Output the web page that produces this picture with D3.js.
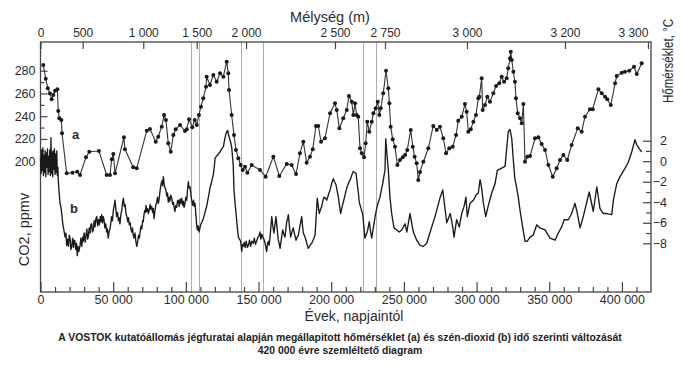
<!DOCTYPE html>
<html><head><meta charset="utf-8">
<script src="https://cdn.jsdelivr.net/npm/d3@7"></script>
<style>
html,body{margin:0;padding:0;background:#fff;}
svg{display:block;font-family:"Liberation Sans",Arial,sans-serif;}
</style></head><body>
<svg id="chart" width="682" height="365"></svg>
<script>
// Ice-core age axis ticks (thousand years before present)
const ageTicks = [0, 50, 100, 150, 200, 250, 300, 350, 400];
// Depth axis ticks (m) and the core age found at each depth (kyr)
const depthTicks = [0, 500, 1000, 1500, 2000, 2500, 2750, 3000, 3200, 3300];
const depthTickAges = [0, 29.0, 70.7, 107.5, 141.4, 202.6, 237.0, 293.4, 360.8, 417.9];
// Reference depth markers drawn as thin vertical lines (kyr)
const markerAges = [103.2, 108.7, 137.9, 153.1, 222.2, 230.8];
const co2Ticks = [200, 220, 240, 260, 280];
const co2MinorTicks = [210, 230, 250, 270];
const tempTicks = [2, 0, -2, -4, -6, -8];
const tempMinorTicks = [1, -1, -3, -5, -7];

// Series a: CO2 (ppmv) vs age (kyr)
const co2 = [
[1.9,285],[3.6,273],[5.0,264.5],[6.5,260],[7.7,255],[8.8,258.6],[10.0,262.4],[11.6,263.6],
[12.2,244.6],[12.9,238.2],[14.3,236.7],[14.8,225],[18.0,189.8],[22.0,190.3],[25.3,191.2],[27.2,188.3],
[31.3,203.9],[33.6,208.8],[40.2,209.4],[45.5,188.3],[47.8,188.3],[49.0,202.1],[50.1,206.8],[51.3,189.8],
[57.4,221.5],[58.1,210.9],[63.8,195.1],[66.2,194.2],[73.1,227.3],[75.3,228.7],[79.3,217.6],[81.0,222],
[83.4,230.8],[85.0,241.1],[86.3,236.7],[87.9,216.2],[89.6,208.8],[91.4,223.5],[93.0,228.5],[96.0,232.3],
[99.4,227],[100.6,228.5],[102.2,237.3],[104.4,230.2],[106.1,236.7],[107.5,232.3],[109.0,241.1],[110.4,248.4],
[112.0,255.7],[113.9,265.9],[114.3,274.7],[116.6,267.4],[118.9,276.2],[121.2,270.3],[123.5,277.7],[125.8,274.7],
[128.1,287.9],[129.2,277.7],[129.7,263],[131.5,241.1],[133.1,223.5],[134.5,210.3],[136.1,203],[137.7,197.1],
[139.1,192.7],[140.7,195.6],[142.3,190.3],[145.3,197.1],[151.0,192.7],[154.9,186.8],[160.2,204.4],[164.3,187.4],
[169.4,198],[172.8,197.1],[175.8,189.2],[178.5,207.4],[180.8,217.6],[183.1,199.1],[185.4,204.4],[187.3,210.9],
[189.5,231.4],[191.1,231.4],[193.0,217.6],[195.7,220.6],[199.2,242.6],[202.6,251.3],[203.8,245.5],[205.6,229.4],
[208.3,238.2],[210.7,245.5],[212.2,257.8],[214.1,252.7],[215.2,241.1],[216.4,251.3],[217.5,241.1],[218.6,239.6],
[219.8,211.8],[221.0,207.4],[222.6,203.9],[223.7,216.2],[224.8,235.2],[226.2,226.4],[227.9,235.2],[229.0,242.6],
[230.6,246.9],[232.0,252.7],[233.1,241.1],[234.1,246.9],[235.8,260.1],[237.7,280],[239.3,264.5],[240.0,251.3],
[240.9,230.8],[242.3,219.7],[243.9,213.2],[245.5,197.1],[247.3,201.5],[249.2,203.9],[250.8,205.9],[252.3,210.3],
[254.7,227.9],[256.1,213.2],[257.4,204.4],[258.8,198.6],[259.9,183.9],[261.1,191],[263.4,200],[266.8,211.8],
[270.2,231.4],[272.6,227.9],[274.8,230.8],[277.1,220.6],[279.0,207.4],[281.2,211.8],[283.6,213.2],[285.9,223.5],
[287.4,236],[289.8,239.6],[292.0,250.7],[293.2,243.9],[294.3,226.4],[296.0,228.5],[297.8,235.2],[299.6,241.1],
[301.2,255.7],[301.9,257.1],[303.5,273.3],[304.2,245.5],[305.8,249.8],[307.4,257.1],[309.2,252.7],[311.5,260.1],
[313.4,266.5],[315.6,268.9],[317.3,274.7],[318.9,270.3],[320.7,273.3],[321.8,282.1],[323.0,290.9],[323.5,296.7],
[324.2,289.4],[325.3,279.1],[326.4,270.3],[327.1,255.7],[328.3,242.6],[329.9,238.2],[331.1,233.8],[332.2,250.7],
[333.3,200],[334.9,204.4],[336.8,205],[340.2,220.6],[342.5,221.5],[344.8,215.6],[347.1,210.3],[349.4,197.1],
[352.4,186.8],[355.1,194.2],[357.4,201.5],[359.7,205.9],[362.4,201.5],[365.4,214.7],[369.6,229.4],[372.3,226.4],
[374.6,239.6],[378.0,246.1],[379.9,246.1],[383.8,263.6],[386.1,260.1],[388.4,257.1],[389.9,254.9],[392.3,249.8],
[395.3,268.9],[396.4,275.3],[399.9,278.2],[402.1,279.1],[405.1,280],[408.3,283.5],[410.2,277.1],[413.6,286.5]
];

// Series b: temperature anomaly (°C) vs age (kyr)
const temperature = [
[0,0.3],[0.4,-1.2],[0.8,1.1],[1.2,-0.9],[1.6,1.3],[2.0,-1.4],[2.4,0.6],[2.8,-1.1],[3.2,1.0],[3.6,-1.5],
[4.0,0.8],[4.4,-0.6],[4.8,1.2],[5.2,-1.3],[5.6,0.5],[6.0,-1.0],[6.4,1.1],[6.8,-1.4],[7.2,2.3],[7.6,-1.2],
[8.0,0.9],[8.4,-1.5],[8.8,1.0],[9.2,-0.8],[9.6,1.2],[10.0,-1.3],[10.4,0.7],[10.8,-1.1],[11.2,1.0],[11.6,-1.4],
[12.0,-0.6],[12.2,-1.8],[12.8,-3.0],[13.4,-4.1],[14.0,-4.4],[14.6,-5.1],[15.4,-6.2],[16.2,-6.8],[16.9,-7.4],[17.5,-7.0],
[18.0,-8.2],[18.6,-7.6],[19.2,-8.3],[19.8,-7.2],[20.3,-7.5],[20.9,-8.6],[21.5,-8.3],[22.1,-7.5],[22.7,-8.4],[23.2,-7.7],
[23.7,-7.8],[24.3,-8.6],[24.8,-8.0],[25.3,-9.2],[25.8,-8.3],[26.4,-8.8],[27.2,-8.2],[27.8,-7.5],[28.4,-8.3],[29.0,-7.4],
[29.4,-7.8],[30.0,-7.0],[30.7,-7.9],[31.3,-7.2],[31.9,-6.6],[32.4,-7.6],[32.9,-7.4],[33.5,-6.5],[34.1,-7.0],[34.6,-6.2],
[35.2,-6.1],[35.7,-6.9],[36.3,-6.7],[36.9,-5.8],[37.5,-6.4],[38.1,-5.6],[38.7,-5.4],[39.3,-6.3],[39.9,-5.7],[40.5,-6.2],
[41.1,-5.4],[41.6,-5.9],[42.1,-5.2],[42.7,-6.0],[43.2,-5.4],[43.7,-5.7],[44.3,-6.5],[44.9,-6.1],[45.5,-6.9],[46.0,-6.6],
[46.6,-7.5],[47.2,-6.8],[47.8,-6.6],[48.3,-6.1],[48.9,-5.4],[49.5,-5.8],[50.1,-4.8],[50.7,-4.3],[51.3,-3.8],[51.8,-4.6],
[52.4,-5.4],[53.0,-5.0],[53.6,-5.8],[54.1,-5.5],[54.7,-6.1],[55.3,-5.2],[55.9,-4.8],[56.4,-4.1],[57.0,-3.6],[57.6,-4.4],
[58.2,-4.2],[58.8,-5.1],[59.4,-5.4],[60.0,-5.9],[60.5,-5.5],[61.1,-6.2],[61.7,-6.0],[62.2,-6.6],[62.7,-6.9],[63.3,-6.5],
[63.8,-7.2],[64.4,-7.5],[65.0,-7.0],[65.6,-7.8],[66.2,-8.3],[66.8,-7.9],[67.4,-7.2],[68.0,-7.5],[68.6,-6.8],[69.2,-6.3],
[69.7,-6.6],[70.3,-5.8],[70.7,-5.9],[71.2,-5.2],[71.7,-4.8],[72.2,-5.0],[72.6,-4.3],[73.1,-4.9],[73.7,-4.6],[74.2,-5.1],
[74.8,-4.8],[75.4,-4.2],[76.0,-4.7],[76.5,-4.4],[77.1,-5.0],[77.6,-4.6],[78.1,-5.6],[78.7,-4.9],[79.3,-4.3],[79.9,-4.0],
[80.5,-3.5],[81.1,-4.1],[81.7,-3.6],[82.3,-2.8],[83.0,-2.2],[83.6,-1.9],[84.0,-2.4],[84.5,-1.5],[85.0,-2.1],[85.4,-2.5],
[86.3,-2.8],[86.8,-3.4],[87.4,-3.1],[87.9,-4.0],[88.4,-3.5],[89.0,-3.9],[89.6,-3.3],[90.3,-3.6],[90.9,-4.2],[91.5,-4.0],
[92.0,-4.6],[92.5,-4.9],[93.1,-4.3],[93.7,-4.5],[94.2,-3.9],[94.8,-3.8],[95.4,-4.4],[96.0,-3.7],[96.5,-4.1],[97.1,-3.6],
[97.7,-4.3],[98.3,-3.9],[98.8,-4.5],[99.4,-4.1],[100.0,-3.5],[100.6,-3.8],[101.1,-2.9],[101.7,-2.0],[102.3,-2.6],[102.9,-2.5],
[103.5,-3.3],[104.1,-3.9],[104.7,-4.3],[105.3,-3.8],[105.8,-4.4],[106.3,-4.1],[106.9,-5.2],[107.4,-6.1],[107.9,-6.7],[108.5,-6.3],
[109.1,-6.9],[109.7,-6.5],[110.4,-6.1],[111.2,-5.9],[112.0,-5.6],[112.8,-5.2],[113.5,-4.8],[114.3,-4.4],[115.1,-3.8],[115.9,-3.2],
[116.6,-2.6],[117.4,-2.2],[118.1,-1.8],[118.9,-1.3],[119.5,-0.6],[120.1,0.3],[121.2,0.5],[122.3,0.7],[123.5,0.9],[124.6,1.2],
[125.8,1.4],[126.7,2.1],[127.6,2.7],[128.2,2.9],[128.8,3.0],[129.3,2.6],[129.9,2.3],[130.7,1.9],[131.5,1.4],[132.0,0.6],
[132.6,-0.4],[133.1,-2.8],[133.8,-4.0],[134.5,-5.1],[135.3,-6.3],[136.1,-7.4],[136.9,-7.6],[137.7,-7.8],[138.4,-8.8],[139.0,-8.1],
[139.5,-8.3],[140.2,-7.9],[140.8,-8.4],[141.5,-7.8],[142.3,-8.4],[143.0,-8.2],[143.8,-7.7],[144.6,-8.3],[145.4,-7.8],[146.4,-8.0],
[147.1,-7.5],[147.9,-8.1],[148.7,-7.8],[149.5,-7.4],[150.3,-7.3],[151.0,-6.9],[151.6,-7.6],[152.3,-7.1],[152.9,-7.4],[153.7,-7.6],
[154.5,-8.0],[155.0,-8.4],[155.6,-8.8],[156.2,-8.0],[156.8,-7.8],[157.3,-8.2],[157.9,-7.4],[158.5,-6.4],[159.1,-5.4],[159.8,-6.3],
[160.6,-7.0],[161.3,-6.2],[162.0,-5.4],[162.8,-6.6],[163.6,-7.7],[164.2,-8.0],[164.8,-8.5],[165.7,-7.6],[166.6,-6.7],[167.4,-7.1],
[168.2,-7.4],[168.8,-6.6],[169.4,-5.9],[170.0,-5.6],[170.5,-5.2],[171.3,-6.4],[172.1,-7.4],[173.0,-6.9],[173.9,-6.5],[174.8,-7.1],
[175.8,-7.7],[176.6,-7.4],[177.4,-7.2],[178.5,-6.3],[179.7,-5.4],[180.2,-6.2],[180.8,-7.0],[181.7,-7.3],[182.7,-7.7],[183.4,-8.1],
[184.2,-8.5],[185.4,-8.2],[186.6,-8.0],[187.8,-7.6],[188.9,-7.2],[189.6,-5.5],[190.4,-3.6],[191.1,-4.4],[191.8,-5.1],[192.6,-4.7],
[193.5,-4.4],[194.2,-3.9],[195.0,-3.5],[196.0,-3.6],[196.9,-3.8],[198.0,-3.3],[199.2,-2.8],[200.3,-2.2],[201.4,-1.7],[202.3,-2.0],
[203.3,-2.3],[204.1,-2.9],[204.9,-3.5],[205.7,-4.3],[206.5,-5.1],[207.4,-4.5],[208.3,-4.0],[209.5,-3.3],[210.7,-2.6],[212.0,-2.1],
[213.4,-1.7],[214.3,-1.3],[215.2,-1.0],[216.2,-1.1],[217.1,-1.2],[218.0,-2.3],[218.7,-3.1],[219.3,-4.0],[220.5,-4.6],[221.7,-5.2],
[222.5,-6.4],[223.2,-7.5],[224.0,-7.2],[224.8,-6.9],[225.5,-6.4],[226.2,-5.9],[227.0,-6.8],[227.9,-7.5],[228.6,-6.8],[229.4,-6.1],
[230.3,-5.3],[231.3,-4.6],[232.4,-4.0],[233.6,-3.5],[234.5,-2.8],[235.4,-2.2],[236.2,-1.5],[237.0,-0.9],[237.5,2.2],[238.4,0.6],
[239.3,-0.9],[240.4,-3.5],[241.6,-5.1],[243.2,-6.5],[245.1,-6.7],[246.8,-6.9],[248.5,-6.7],[250.8,-6.1],[252.0,-6.9],[254.2,-5.1],
[256.5,-6.9],[258.8,-7.7],[261.1,-8.2],[263.4,-8.3],[265.7,-8.0],[268.5,-6.7],[271.4,-5.4],[274.8,-3.6],[276.7,-2.8],[279.5,-6.0],
[281.9,-5.1],[283.6,-6.4],[284.5,-7.4],[286.3,-5.7],[288.1,-6.4],[289.8,-5.1],[291.4,-4.4],[292.7,-3.5],[293.6,-5.4],[295.5,-4.1],
[297.8,-3.8],[299.6,-3.3],[301.2,-3.1],[302.4,-1.8],[303.5,-2.6],[304.6,-4.0],[306.3,-5.4],[308.1,-4.3],[310.4,-3.1],[312.7,-2.2],
[314.3,-0.9],[319.6,-0.5],[321.8,2.9],[323.0,3.1],[324.2,2.2],[325.3,0.1],[326.4,-1.8],[327.1,-2.2],[328.7,-3.5],[329.9,-4.8],
[331.7,-6.4],[333.3,-7.8],[334.9,-7.8],[336.8,-7.4],[339.0,-7.2],[341.4,-6.2],[343.6,-6.5],[347.1,-6.7],[350.5,-7.5],[354.0,-7.7],
[356.2,-7.0],[358.6,-6.4],[360.2,-5.7],[363.1,-5.7],[365.4,-5.1],[367.7,-4.1],[368.9,-4.8],[371.2,-6.5],[373.4,-5.4],[375.8,-4.0],
[377.5,-3.0],[380.3,-4.9],[382.7,-2.5],[384.9,-4.6],[387.2,-5.1],[389.5,-5.1],[393.0,-5.2],[394.1,-3.8],[396.4,-2.2],[398.7,-1.5],
[402.1,-0.7],[404.4,-0.1],[406.7,0.9],[409.0,2.1],[410.2,1.6],[412.5,1.1],[413.6,0.9]
];

const svg = d3.select("#chart");
const W = 682, H = 365;
const plot = {left: 40.5, right: 651, top: 42, bottom: 292};
const ink = "#2b2b2b";

svg.append("rect").attr("width", W).attr("height", H).attr("fill", "#fff");

const x = d3.scaleLinear().domain([0, 420]).range([plot.left, plot.right]);
const yCO2 = d3.scaleLinear().domain([200, 280]).range([161.7, 70.7]);
const yTemp = d3.scaleLinear().domain([-8, 2]).range([243.3, 140.7]);
const depthScale = d3.scaleLinear().domain(depthTicks).range(depthTickAges.map(x));

const loc = d3.formatLocale({decimal: ",", thousands: "\u00a0", grouping: [3], currency: ["", ""], minus: "\u2212"});
const grp = loc.format(",d");

// vertical depth markers
svg.append("g").selectAll("line").data(markerAges).join("line")
  .attr("x1", d => Math.round(x(d)) + 0.5).attr("x2", d => Math.round(x(d)) + 0.5)
  .attr("y1", plot.top).attr("y2", plot.bottom)
  .attr("stroke", "#b9aca8").attr("stroke-width", 1);

function styleAxis(g, size) {
  g.select(".domain").remove();
  g.selectAll(".tick line").attr("stroke", "#444").attr("stroke-width", 1.2);
  g.selectAll(".tick text").attr("fill", ink).style("font-size", (size || 12) + "px")
    .style("font-family", '"Liberation Sans", Arial, sans-serif');
}

// bottom age axis
const gx = svg.append("g").attr("transform", `translate(0,${plot.bottom})`)
  .call(d3.axisBottom(x).tickValues(ageTicks).tickSize(-10).tickPadding(3).tickFormat(d => grp(d * 1000)));
styleAxis(gx, 12.5);
const gxm = svg.append("g").attr("transform", `translate(0,${plot.bottom})`)
  .call(d3.axisBottom(x).tickValues(d3.range(10, 420, 10).filter(d => d % 50)).tickSize(-5).tickFormat(""));
styleAxis(gxm);

// top depth axis (last label sits left of its tick, clear of the corner)
const gd = svg.append("g").attr("transform", `translate(0,${plot.top})`)
  .call(d3.axisTop(depthScale).tickValues(depthTicks).tickSize(-7).tickPadding(5).tickFormat(d => grp(d)));
styleAxis(gd, 12);
gd.selectAll(".tick text").filter(d => d === depthTicks[depthTicks.length - 1])
  .attr("text-anchor", "end").attr("x", 0);

// left CO2 axis
const gl = svg.append("g").attr("transform", `translate(${plot.left},0)`)
  .call(d3.axisLeft(yCO2).tickValues(co2Ticks).tickSize(-7).tickPadding(5));
styleAxis(gl, 12.5);
const glm = svg.append("g").attr("transform", `translate(${plot.left},0)`)
  .call(d3.axisLeft(yCO2).tickValues(co2MinorTicks).tickSize(-4).tickFormat(""));
styleAxis(glm);

// right temperature axis
const gr = svg.append("g").attr("transform", `translate(${plot.right},0)`)
  .call(d3.axisRight(yTemp).tickValues(tempTicks).tickSize(-8).tickPadding(5).tickFormat(loc.format("d")));
styleAxis(gr, 12.5);
gr.selectAll(".tick text").attr("text-anchor", "end").attr("x", 16);
const grm = svg.append("g").attr("transform", `translate(${plot.right},0)`)
  .call(d3.axisRight(yTemp).tickValues(tempMinorTicks).tickSize(-5).tickFormat(""));
styleAxis(grm);

// frame
svg.append("rect").attr("x", plot.left).attr("y", plot.top)
  .attr("width", plot.right - plot.left).attr("height", plot.bottom - plot.top)
  .attr("fill", "none").attr("stroke", "#444").attr("stroke-width", 1.3);

// series b: temperature
svg.append("path").datum(temperature)
  .attr("d", d3.line().x(d => x(d[0])).y(d => yTemp(d[1])))
  .attr("fill", "none").attr("stroke", "#1a1a1a").attr("stroke-width", 1.35).attr("stroke-linejoin", "round");

// series a: CO2 with sample markers
svg.append("path").datum(co2)
  .attr("d", d3.line().x(d => x(d[0])).y(d => yCO2(d[1])))
  .attr("fill", "none").attr("stroke", "#333").attr("stroke-width", 1.1);
svg.append("g").selectAll("circle").data(co2).join("circle")
  .attr("cx", d => x(d[0])).attr("cy", d => yCO2(d[1])).attr("r", 2).attr("fill", "#1a1a1a");

// series letters
svg.append("text").attr("x", x(21.7)).attr("y", yCO2(220)).text("a")
  .attr("fill", ink).style("font-size", "13px").style("font-weight", "bold");
svg.append("text").attr("x", x(20.3)).attr("y", yTemp(-5.05)).text("b")
  .attr("fill", ink).style("font-size", "13px").style("font-weight", "bold");

// axis titles
svg.append("text").attr("x", 330).attr("y", 21.5).attr("text-anchor", "middle")
  .attr("fill", ink).style("font-size", "14.5px").text("Mélység (m)");
svg.append("text").attr("x", 354).attr("y", 321).attr("text-anchor", "middle")
  .attr("fill", ink).style("font-size", "14px").text("Évek, napjaintól");
svg.append("text").attr("transform", "translate(28.5,229.5) rotate(-90)").attr("text-anchor", "middle")
  .attr("fill", ink).style("font-size", "14.5px").text("CO2, ppmv");
svg.append("text").attr("transform", "translate(672.5,61) rotate(-90)").attr("text-anchor", "middle")
  .attr("fill", ink).style("font-size", "14px")
  .attr("textLength", 84).attr("lengthAdjust", "spacingAndGlyphs").text("Hőmérséklet, °C");

// caption
svg.append("text").attr("x", 340).attr("y", 341).attr("text-anchor", "middle")
  .attr("fill", "#222").style("font-size", "10.4px").style("font-weight", "bold")
  .text("A VOSTOK kutatóállomás jégfuratai alapján megállapitott hőmérséklet (a) és szén-dioxid (b) idő szerinti változását");
svg.append("text").attr("x", 340).attr("y", 354).attr("text-anchor", "middle")
  .attr("fill", "#222").style("font-size", "10.4px").style("font-weight", "bold")
  .text("420 000 évre szemléltető diagram");
</script></body></html>
